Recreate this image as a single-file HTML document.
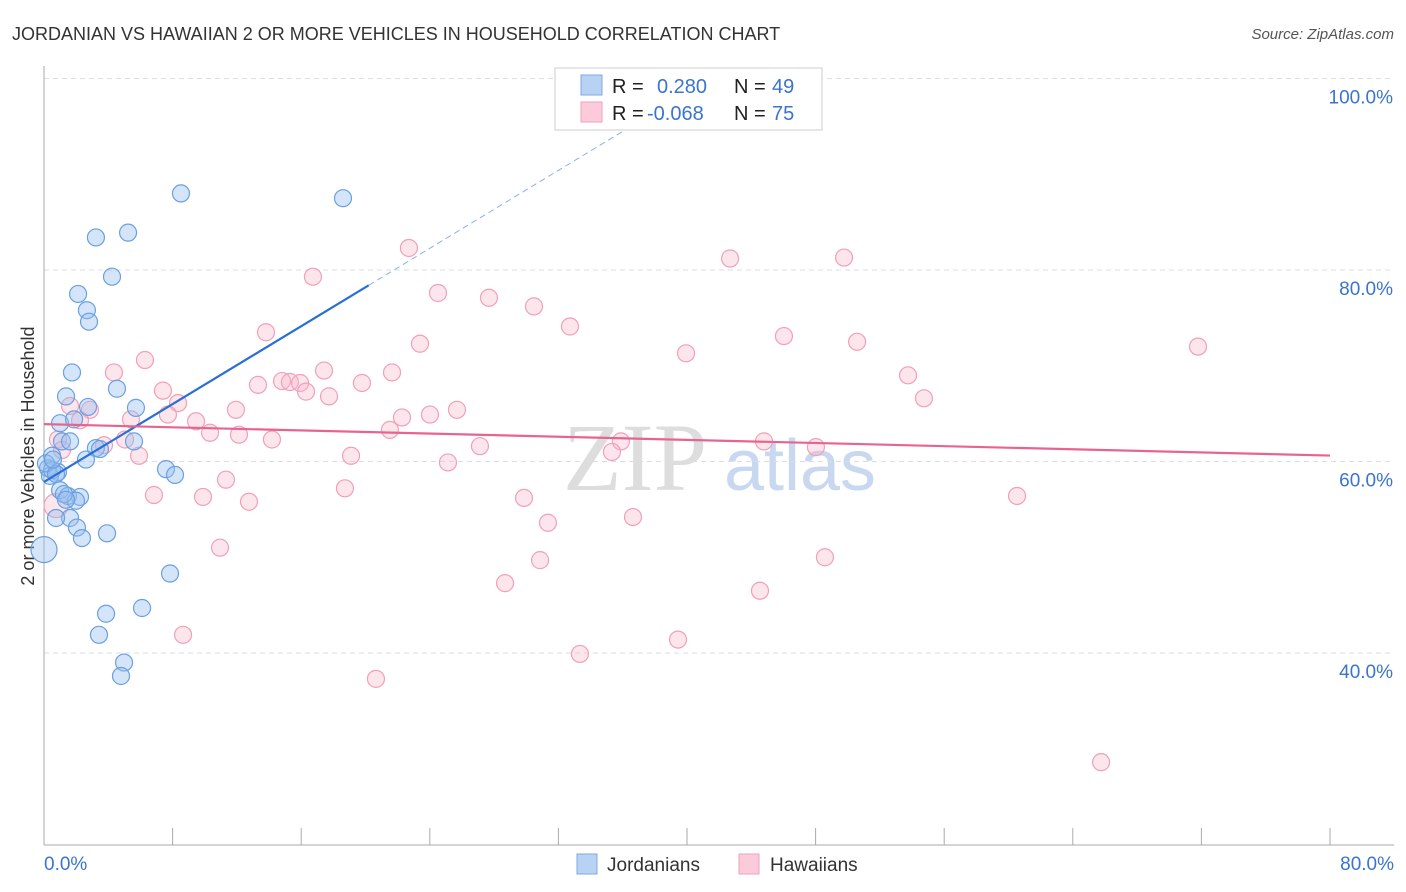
<!DOCTYPE html>
<html><head><meta charset="utf-8"><style>
body{margin:0;background:#fff;font-family:"Liberation Sans",sans-serif;}
svg{display:block}
</style></head><body>
<svg id="chart" width="1406" height="892" xmlns="http://www.w3.org/2000/svg">
<text x="12" y="40" font-size="18" fill="#333">JORDANIAN VS HAWAIIAN 2 OR MORE VEHICLES IN HOUSEHOLD CORRELATION CHART</text>
<text x="1394" y="39" font-size="15" fill="#555" text-anchor="end" font-style="italic">Source: ZipAtlas.com</text>
<text transform="translate(34,456) rotate(-90)" font-size="18" fill="#333" text-anchor="middle">2 or more Vehicles in Household</text>
<g>
<text x="635" y="490" font-size="96" fill="#ddd" text-anchor="middle" font-family="Liberation Serif,serif">ZIP</text>
<text x="800" y="490" font-size="72" fill="#c8d8f0" text-anchor="middle">atlas</text>
</g>
<g id="grid"></g><g id="axes"></g><g id="pts"></g><g id="lines"></g>
<g>
<rect x="555" y="68" width="267" height="62" fill="#fff" stroke="#ccc"/>
<rect x="581" y="75" width="21" height="20" fill="#b8d2f4" stroke="#7ea8e0"/>
<rect x="581" y="102" width="21" height="20" fill="#fbcbd9" stroke="#eea0b8"/>
<text x="612" y="93" font-size="20" fill="#222">R =</text><text x="657" y="93" font-size="20" fill="#3a74d0">0.280</text>
<text x="734" y="93" font-size="20" fill="#222">N =</text><text x="772" y="93" font-size="20" fill="#3a74d0">49</text>
<text x="612" y="120" font-size="20" fill="#222">R =</text><text x="647" y="120" font-size="20" fill="#3a74d0">-0.068</text>
<text x="734" y="120" font-size="20" fill="#222">N =</text><text x="772" y="120" font-size="20" fill="#3a74d0">75</text>
</g>
<g>
<rect x="577" y="854" width="20" height="20" fill="#b8d2f4" stroke="#7ea8e0"/>
<text x="607" y="871" font-size="19" fill="#333">Jordanians</text>
<rect x="739" y="854" width="20" height="20" fill="#fbcbd9" stroke="#eea0b8"/>
<text x="770" y="871" font-size="19" fill="#333">Hawaiians</text>
</g>
</svg>
<script>
const yTicks=[40,60,80,100];
const yTickLabels=["40.0%","60.0%","80.0%","100.0%"];
const xEndLabels=["0.0%","80.0%"];
const jorX=[8.52,18.6,3.23,5.23,4.23,2.12,2.67,2.8,1.74,4.54,1.37,2.74,5.72,1.0,1.87,1.12,1.62,3.23,3.48,5.6,2.61,0.5,0.25,0.87,0.37,7.59,8.15,1.0,1.49,2.24,1.99,1.62,0.75,2.05,2.36,3.92,7.84,3.86,6.1,3.42,4.98,4.79,0,0.5,0.12,1.24,0.75,1.37,0.56];
const jorY=[88.0,87.5,83.4,83.9,79.3,77.5,75.8,74.6,69.3,67.6,66.8,65.7,65.6,64.0,64.4,62.1,62.1,61.4,61.3,62.1,60.2,60.6,59.3,58.9,58.5,59.2,58.6,57.0,56.4,56.3,55.9,54.1,54.1,53.1,52.0,52.5,48.3,44.1,44.7,41.9,39.0,37.6,50.8,59.1,59.8,56.6,58.7,56.0,60.2];
const hawX=[22.7,16.73,42.68,49.77,24.51,27.68,30.48,32.72,13.81,23.39,46.03,50.58,39.94,71.79,6.28,4.35,17.42,21.65,7.4,13.31,14.81,15.3,15.93,16.3,19.78,17.73,53.75,54.74,8.34,2.86,1.62,11.94,25.69,22.27,24.01,7.71,9.46,5.41,10.33,12.13,14.18,21.52,5.04,3.73,0.87,35.89,27.12,44.79,48.02,5.91,19.1,25.13,35.33,11.32,6.84,9.89,18.72,29.86,12.75,60.53,31.35,36.64,10.95,30.86,48.58,28.68,44.54,8.65,39.44,33.34,20.65,65.76,0.75,1.12,2.24];
const hawY=[82.3,79.3,81.2,81.3,77.6,77.1,76.2,74.1,73.5,72.3,73.1,72.5,71.3,72.0,70.6,69.3,69.5,69.3,67.4,68.0,68.4,68.3,68.2,67.3,68.2,66.8,69.0,66.6,66.1,65.4,65.8,65.4,65.4,64.6,64.9,64.9,64.2,64.4,63.0,62.8,62.3,63.3,62.3,61.7,62.3,62.1,61.6,62.1,61.5,60.6,60.6,59.9,61.0,58.1,56.5,56.3,57.2,56.2,55.8,56.4,53.6,54.2,51.0,49.7,50.0,47.3,46.5,41.9,41.4,39.9,37.3,28.6,55.4,61.2,64.3];
const jorTrend=[57.86,1.017]; // intercept, slope
const hawTrend=[63.9,-0.041];
const X=v=>44+v*16.075, Y=v=>78.5+(100-v)*9.575;
const NS="http://www.w3.org/2000/svg";
function mk(t,a,p){const e=document.createElementNS(NS,t);for(const k in a)e.setAttribute(k,a[k]);p.appendChild(e);return e;}
const grid=document.getElementById('grid'),axes=document.getElementById('axes'),pts=document.getElementById('pts'),lines=document.getElementById('lines');
yTicks.forEach((t,i)=>{
 const l=mk('line',{x1:44,x2:1394,y1:Y(t),y2:Y(t),stroke:'#ddd','stroke-dasharray':'5,4'},grid);
 
 
 const tx=mk('text',{x:1393,y:Y(t)+25,'font-size':19,fill:'#3a74d0','text-anchor':'end'},axes);
 tx.textContent=yTickLabels[i];
 
 
});
const ya=mk('line',{x1:44,x2:44,y1:66,y2:845,stroke:'#aaa'},axes);


const xa=mk('line',{x1:44,x2:1394,y1:845,y2:845,stroke:'#aaa'},axes);


for(let v=0;v<=80;v+=8){const t=mk('line',{x1:X(v),x2:X(v),y1:828,y2:845,stroke:'#aaa'},axes);
 
 }
const l0=mk('text',{x:44,y:870,'font-size':19,fill:'#3a74d0'},axes);l0.textContent=xEndLabels[0];


const l1=mk('text',{x:1394,y:870,'font-size':19,fill:'#3a74d0','text-anchor':'end'},axes);l1.textContent=xEndLabels[1];


hawX.forEach((x,i)=>{const c=mk('circle',{cx:X(x),cy:Y(hawY[i]),r:i==72?12:8.5,fill:'rgba(248,180,200,0.35)',stroke:'#f0a0b8','stroke-width':1.2},pts);
 
 });
jorX.forEach((x,i)=>{const c=mk('circle',{cx:X(x),cy:Y(jorY[i]),r:i==42?13:8.5,fill:'rgba(150,190,240,0.4)',stroke:'#6aa0e0','stroke-width':1.2},pts);
 
 });
const bt=mk('line',{x1:X(0),y1:Y(jorTrend[0]),x2:X(20.2),y2:Y(jorTrend[0]+jorTrend[1]*20.2),stroke:'#2a6fd6','stroke-width':2.2},lines);


const bd=mk('line',{x1:X(20.2),y1:Y(jorTrend[0]+jorTrend[1]*20.2),x2:X(37),y2:Y(jorTrend[0]+jorTrend[1]*37),stroke:'#8ab0e8','stroke-width':1,'stroke-dasharray':'6,4'},lines);


const pt=mk('line',{x1:X(0),y1:Y(hawTrend[0]),x2:X(80),y2:Y(hawTrend[0]+hawTrend[1]*80),stroke:'#e8648e','stroke-width':2.2},lines);


</script>
</body></html>
